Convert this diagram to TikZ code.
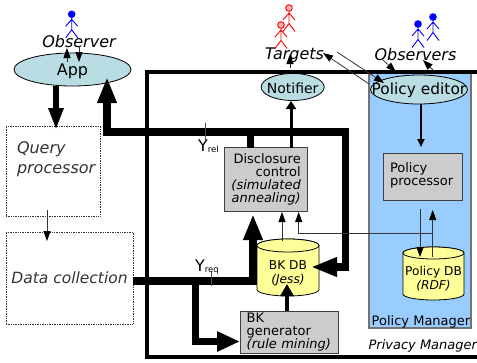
\documentclass[tikz,border=0pt]{standalone}
\usepackage{fontspec}
\setmainfont{DejaVu Sans}
\usetikzlibrary{arrows.meta,shapes.geometric}
\definecolor{ellfill}{HTML}{B9DDE3}
\definecolor{boxfill}{HTML}{CCCCCC}
\definecolor{dbfill}{HTML}{FFFF99}
\definecolor{pmfill}{HTML}{99CCFF}
\newcommand{\fsz}[1]{\fontsize{#1}{#1}\selectfont}
\newcommand{\lowertext}[2]{\raisebox{-#1}[\height][\depth]{#2}}
\tikzset{
  x=1pt,y=-1pt,
  every node/.style={inner sep=0pt,outer sep=0pt},
  ell/.style={ellipse,draw=black,line width=0.8pt,fill=ellfill},
  graybox/.style={rectangle,draw=black!75,line width=1pt,fill=boxfill,font=\fsz{13},inner xsep=7pt},
  dotbox/.style={rectangle,draw=black!80,line width=0.7pt,densely dotted,text=black!80,font=\fsz{16}\itshape},
  dbshape/.style={draw=black,line width=0.8pt,fill=dbfill},
  dbtext/.style={font=\fontsize{12.2}{14}\selectfont,align=center},
  lbl/.style={font=\fsz{16}\itshape},
  thick1/.style={line width=7.5pt,-{Triangle[width=18pt,length=26pt]}},
  thickline/.style={line width=7.5pt},
  thinarrow/.style={line width=0.8pt,black!80,-{Triangle[width=7pt,length=10pt,black]}},
  midarrow/.style={line width=3pt,-{Triangle[width=10pt,length=8pt]}},
  tick/.style={line width=0.5pt,black!70},
  figline/.style={line width=0.9pt},
  stickman/.pic={
    \draw[figline,pic actions] (0,0) circle[radius=3.3];
    \draw[figline,pic actions,fill=none] (0,3.3) -- (0,15.5) (-6,12) -- (0,5) -- (6,12) (-6,23.5) -- (0,15.5) -- (6,23.5);
  }
}
\begin{document}
\begin{tikzpicture}
\useasboundingbox (0,0) rectangle (477,362);
% blue box
\node[rectangle,draw=black!55,line width=1.2pt,fill=pmfill,minimum width=102pt,minimum height=256pt] (pm) at (420,200) {};
\node[font=\fsz{13},anchor=base] (pmlbl) at (421,325.5) {Policy Manager};
\node[font=\fsz{13}\itshape,anchor=base east] (privlbl) at (477,349) {Privacy Manager};
% frame
\coordinate (fa) at (477,72);\coordinate (fb) at (147,72);\coordinate (fc) at (147,357);\coordinate (fd) at (477,357);
\draw[line width=3.5pt] (fa) -- (fb) -- (fc) -- (fd);
% figures
\pic[draw=blue,fill=blue] at (71.7,14.3) {stickman};
\pic[draw=red,fill=red!30] at (289,8) {stickman};
\pic[draw=red,fill=red!30] at (281,25) {stickman};
\pic[draw=blue,fill=blue] at (418,24) {stickman};
\pic[draw=blue,fill=blue] at (433,17) {stickman};
% labels
\node[lbl,anchor=base] (observer) at (79,47) {Observer};
\node[lbl,anchor=base] (targets) at (294.5,59) {Targets};
\node[lbl,anchor=base] (observers) at (415.5,60) {Observers};
% ellipses
\node[ell,minimum width=117pt,minimum height=33pt,font=\fsz{16}] (app) at (72.5,69.5) {\lowertext{2pt}{App}};
\node[ell,inner xsep=-8pt,minimum width=63pt,minimum height=27pt,font=\fsz{14}] (notifier) at (292.7,87) {\lowertext{1pt}{Notifier}};
\node[ell,inner xsep=-13pt,minimum width=92pt,minimum height=29pt,font=\fsz{15.4}] (editor) at (419,89.5) {\lowertext{1pt}{Policy editor}};
% boxes
\node[dotbox,minimum width=94pt,minimum height=90pt,text width=78pt,inner xsep=8pt,align=left,text depth=46pt,font=\fontsize{16}{19.5}\selectfont\itshape] (query) at (53,171) {\hspace*{3pt}Query\\\hspace*{3pt}\mbox{processor}};
\node[dotbox,minimum width=127pt,minimum height=92pt,font=\fsz{15.5}\itshape] (collect) at (69.5,278) {Data collection};
\node[graybox,minimum width=83.5pt,minimum height=64pt,text width=69.5pt,align=right] (disc) at (266,179.7) {Disclosure\\control\\\itshape(simulated\\\itshape annealing)};
\node[graybox,minimum width=79pt,minimum height=47pt,text width=65pt,align=left,text depth=17.5pt] (proc) at (422.5,176.5) {Policy\\processor};
\node[graybox,minimum width=98pt,minimum height=42pt,text width=84.6pt,inner xsep=6.7pt,align=left] (bkgen) at (289,332) {BK\\generator\\\mbox{\itshape(rule mining)}};
% databases
\draw[dbshape] (257,245.5) -- (257,289.5) arc[start angle=180,end angle=0,x radius=31,y radius=6.5] -- (319,245.5) arc[start angle=0,end angle=-180,x radius=31,y radius=6.5] -- cycle;
\draw[dbshape] (288,245.5) circle[x radius=31,y radius=6.5];
\node[dbtext] (bkdbt) at (288,273) {BK DB\\\itshape(Jess)};
\draw[dbshape] (403,253) -- (403,294) arc[start angle=180,end angle=0,x radius=30.5,y radius=6] -- (464,253) arc[start angle=0,end angle=-180,x radius=30.5,y radius=6] -- cycle;
\draw[dbshape] (433.5,253) circle[x radius=30.5,y radius=6];
\node[dbtext] (poldbt) at (433.5,278.5) {Policy DB\\\itshape(RDF)};
% helper coordinates
\coordinate (obsup) at (67,48);\coordinate (appup) at (67,62);
\coordinate (obsdn) at (79,46);\coordinate (appdn) at (79,62);
\coordinate (appout) at (56,86);\coordinate (queryin) at (56,130);
\coordinate (yrelR) at (345.5,132);\coordinate (yrelL) at (107,132);\coordinate (appin) at (107,77);
\coordinate (discstub) at (250.5,148);\coordinate (discstubtop) at (250.5,128);
\coordinate (bkdbin) at (311,267);\coordinate (corner) at (345.5,267);
\coordinate (qdown) at (47,210);\coordinate (cin) at (47,241);
\coordinate (creqL) at (133,281);\coordinate (creqR) at (253,281);\coordinate (discin) at (253,214);
\coordinate (brA) at (195.5,281);\coordinate (brB) at (195.5,341.5);\coordinate (brC) at (240,341.5);
\coordinate (nA) at (291,148);\coordinate (nB) at (291,101);
\coordinate (tA) at (290,68);\coordinate (tB) at (290,54);
\coordinate (eA) at (421,104);\coordinate (eB) at (421,147);
\coordinate (dA) at (282,241);\coordinate (dB) at (282,212);
\coordinate (pA) at (298.7,233);\coordinate (pB) at (298.7,212);\coordinate (pC) at (432.7,233);
\coordinate (pD) at (432.7,257);\coordinate (pE) at (432.7,210);
\coordinate (qA) at (420,209);\coordinate (qB) at (420,257);
\coordinate (gA) at (287,311);\coordinate (gB) at (287,284);
\coordinate (a1) at (337,52);\coordinate (a2) at (384,83);
\coordinate (a3) at (369,84);\coordinate (a4) at (323,53);
\coordinate (a5) at (383,60);\coordinate (a6) at (396,72);
\coordinate (a7) at (434,71);\coordinate (a8) at (423,60);
\coordinate (t1a) at (205,123);\coordinate (t1b) at (205,140);
\coordinate (t2a) at (211,270.7);\coordinate (t2b) at (211,286);
% connectors
\draw[thick1] (discstubtop |- yrelR) -- (yrelL) -- (appin);
\draw[thickline] (discstubtop) -- (discstub);
\draw[thick1] (discstubtop |- yrelR) -- (yrelR) -- (corner) -- (bkdbin);
\draw[line width=5.5pt,-{Triangle[width=14pt,length=22pt]}] (appout) -- (queryin);
\draw[thick1] (creqL) -- (creqR) -- (discin);
\draw[line width=7pt,-{Triangle[width=19pt,length=23pt]}] (brA) -- (brB) -- (brC);
\draw[midarrow] (nA) -- (nB);
\draw[line width=1.8pt,-{Triangle[width=7pt,length=8pt]}] (eA) -- (eB);
\draw[line width=4pt,-{Triangle[width=13pt,length=12pt]}] (gA) -- (gB);
\draw[thinarrow] (appup) -- (obsup);
\draw[thinarrow] (obsdn) -- (appdn);
\draw[thinarrow] (qdown) -- (cin);
\draw[thinarrow] (tA) -- (tB);
\draw[thinarrow] (dA) -- (dB);
\draw[thinarrow] (pC) -- (pA) -- (pB);
\draw[thinarrow] (pD) -- (pE);
\draw[thinarrow] (qA) -- (qB);
\draw[thinarrow] (a1) -- (a2);
\draw[thinarrow] (a3) -- (a4);
\draw[thinarrow] (a5) -- (a6);
\draw[thinarrow] (a7) -- (a8);
\draw[tick] (t1a) -- (t1b);
\draw[tick] (t2a) -- (t2b);
\node[font=\fsz{16},anchor=base west] (yrel) at (198,151.5) {Y\raisebox{-1pt}{\fsz{8.5}rel}};
\node[font=\fsz{16},anchor=base west] (yreq) at (195,271) {Y\raisebox{-1pt}{\fsz{8.5}req}};
\end{tikzpicture}
\end{document}
